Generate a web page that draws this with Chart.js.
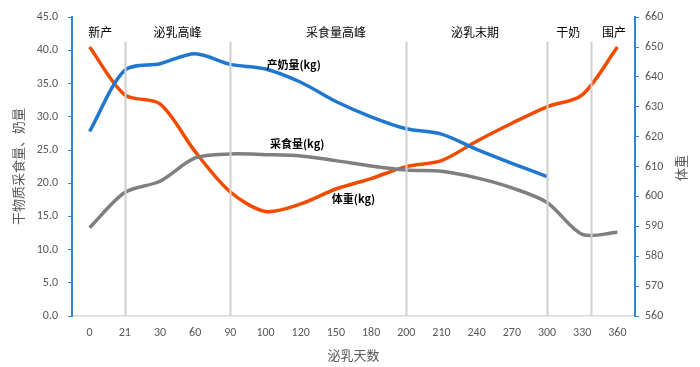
<!DOCTYPE html>
<html>
<head>
<meta charset="utf-8">
<script src="https://cdn.jsdelivr.net/npm/chart.js@4/dist/chart.umd.min.js"></script>
<style>
  html, body { margin: 0; padding: 0; background: #fff; }
  #wrap { width: 700px; height: 367px; }
</style>
</head>
<body>
<div id="wrap"><canvas id="cowChart" width="700" height="367"></canvas></div>
<script>
// x categories: days in milk
const days = ["0", "21", "30", "60", "90", "100", "120", "150", "180", "200", "210", "240", "270", "300", "330", "360"];

// series values
const milkYield = [27.8, 37.0, 38.0, 39.5, 37.9, 37.2, 35.2, 32.3, 30.0, 28.2, 27.4, 25.1, 23.0, 21.0, null, null];
const feedIntake = [13.3, 18.6, 20.3, 23.8, 24.4, 24.3, 24.1, 23.4, 22.6, 22.0, 21.8, 20.8, 19.3, 17.1, 12.3, 12.6];
const bodyWeight = [650, 634, 631, 615, 601.5, 595, 597.5, 602.5, 606, 610, 612, 618.5, 624.5, 630, 634, 650];

// phase dividers (category index) and phase labels
const dividers = [1, 4, 9, 13, 14.26];
const phaseNames = ["新产", "泌乳高峰", "采食量高峰", "泌乳末期", "干奶", "围产"];
const phaseCenters = [0.3, 2.5, 7.0, 10.95, 13.6, 14.9];

// series labels: [text, category index, left-axis value]
const seriesLabels = [
    ["产奶量(kg)", 5.8, 37.8],
    ["采食量(kg)", 5.9, 26.0],
    ["体重(kg)", 7.5, 17.7]
];

const fontFamily = "Calibri, 'Liberation Sans', 'Noto Sans CJK SC', sans-serif";

// draws the phase dividers, labels and the right axis title
const phasePlugin = {
    id: "phases",
    afterDatasetsDraw(chart) {
        const ctx = chart.ctx;
        const x = chart.scales.x;
        const y = chart.scales.y;
        const step = x.getPixelForValue(1) - x.getPixelForValue(0);
        const x0 = x.getPixelForValue(0);

        ctx.save();
        ctx.strokeStyle = "#cfcfcf";
        ctx.lineWidth = 2;
        dividers.forEach(d => {
            const px = Math.round(x0 + d * step) + 0.5;
            ctx.beginPath();
            ctx.moveTo(px, y.getPixelForValue(41.3));
            ctx.lineTo(px, y.getPixelForValue(0));
            ctx.stroke();
        });

        ctx.fillStyle = "#000";
        ctx.textAlign = "center";
        ctx.textBaseline = "middle";
        ctx.font = "12px 'Noto Sans CJK SC', sans-serif";
        phaseNames.forEach((name, i) => {
            ctx.fillText(name, x0 + phaseCenters[i] * step, y.getPixelForValue(42.7));
        });

        ctx.font = "bold 11px 'Noto Sans CJK SC', sans-serif";
        seriesLabels.forEach(([text, xi, v]) => {
            ctx.fillText(text, x0 + xi * step, y.getPixelForValue(v));
        });

        // right axis title, reading bottom to top
        ctx.fillStyle = "#595959";
        ctx.font = "13px 'Noto Sans CJK SC', sans-serif";
        ctx.translate(681, 168);
        ctx.rotate(-Math.PI / 2);
        ctx.fillText("体重", 0, 0);
        ctx.restore();
    }
};

const ctx = document.getElementById("cowChart").getContext("2d");

new Chart(ctx, {
    type: "line",
    data: {
        labels: days,
        datasets: [
            {
                label: "产奶量(kg)",
                data: milkYield,
                borderColor: "#1f77cf",
                yAxisID: "y"
            },
            {
                label: "采食量(kg)",
                data: feedIntake,
                borderColor: "#7f7f7f",
                yAxisID: "y"
            },
            {
                label: "体重(kg)",
                data: bodyWeight,
                borderColor: "#f24b00",
                yAxisID: "y1"
            }
        ]
    },
    options: {
        responsive: false,
        animation: false,
        spanGaps: false,
        layout: { padding: { top: 15, right: 0, left: 0, bottom: 0 } },
        elements: {
            line: { borderWidth: 3.5, tension: 0.3, fill: false },
            point: { radius: 0 }
        },
        plugins: {
            legend: { display: false },
            tooltip: { enabled: false }
        },
        scales: {
            x: {
                offset: true,
                grid: { display: false, drawTicks: false },
                border: { color: "#d9d9d9", width: 1.5 },
                ticks: { color: "#595959", font: { size: 12, family: fontFamily }, padding: 10 },
                title: {
                    display: true,
                    text: "泌乳天数",
                    color: "#595959",
                    font: { size: 13, family: "'Noto Sans CJK SC', sans-serif" },
                    padding: { top: 3 }
                },
                afterFit(scale) { scale.height = 51; }
            },
            y: {
                position: "left",
                min: 0,
                max: 45,
                ticks: {
                    stepSize: 5,
                    color: "#595959",
                    font: { size: 12, family: fontFamily },
                    padding: 10,
                    callback: v => v.toFixed(1)
                },
                grid: { display: true, drawOnChartArea: false, tickLength: 4, color: "#2e86d6" },
                border: { color: "#2e86d6", width: 2 },
                title: {
                    display: true,
                    text: "干物质采食量、奶量",
                    color: "#595959",
                    font: { size: 13, family: "'Noto Sans CJK SC', sans-serif" },
                    padding: { top: 10, bottom: 0 }
                },
                afterFit(scale) { scale.width = 72; }
            },
            y1: {
                position: "right",
                min: 560,
                max: 660,
                ticks: {
                    stepSize: 10,
                    color: "#595959",
                    font: { size: 12, family: fontFamily },
                    padding: 6
                },
                grid: { display: true, drawOnChartArea: false, tickLength: 4, color: "#2e86d6" },
                border: { color: "#2e86d6", width: 2 },
                afterFit(scale) { scale.width = 65; }
            }
        }
    },
    plugins: [phasePlugin]
});
</script>
</body>
</html>
